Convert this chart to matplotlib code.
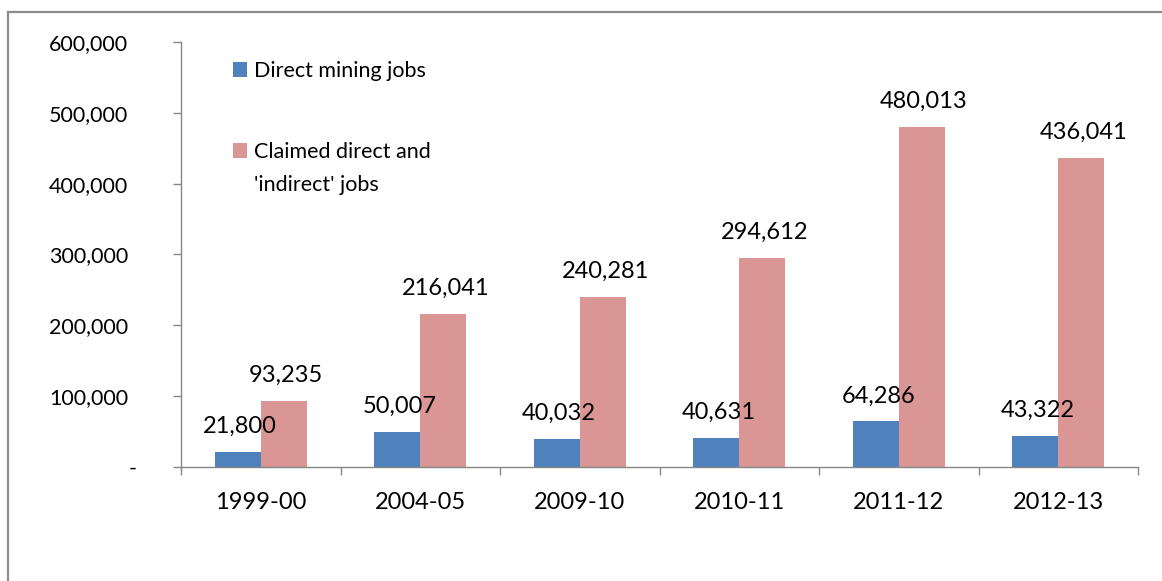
import matplotlib
matplotlib.use("Agg")
import matplotlib.pyplot as plt
from matplotlib.lines import Line2D
from matplotlib.patches import Patch
from matplotlib.transforms import ScaledTranslation
import numpy as np

categories = ["1999-00", "2004-05", "2009-10", "2010-11", "2011-12", "2012-13"]
direct_jobs = [21800, 50007, 40032, 40631, 64286, 43322]
claimed_jobs = [93235, 216041, 240281, 294612, 480013, 436041]
series_names = ["Direct mining jobs", "Claimed direct and", "'indirect' jobs"]
y_ticks = [0, 100000, 200000, 300000, 400000, 500000, 600000]

BLUE = "#4F81BD"
PINK = "#D99694"
AXC = "#868686"

plt.rcParams['font.family'] = ['Lato', 'DejaVu Sans']

fig = plt.figure(figsize=(11.62, 5.81), dpi=100)
ax = fig.add_axes([181/1162, 114/581, (1138-181)/1162, (467-42)/581])

x = np.arange(len(categories)) + 0.5
w = 0.288
b1 = ax.bar(x - w/2, direct_jobs, width=w, color=BLUE, linewidth=0)
b2 = ax.bar(x + w/2, claimed_jobs, width=w, color=PINK, linewidth=0)

for bars, vals in ((b1, direct_jobs), (b2, claimed_jobs)):
    for r, v in zip(bars, vals):
        ax.annotate(f"{v:,}", (r.get_x() + r.get_width()/2 + 0.015, r.get_height()),
                    xytext=(0, 13.7), textcoords="offset points",
                    ha="center", va="baseline", fontsize=17, color="black")

ax.set_xlim(0, len(categories))
ax.set_ylim(0, 600000)

ax.set_yticks(y_ticks)
ax.set_yticklabels(["-" if t == 0 else f"{t:,}" for t in y_ticks])
ax.tick_params(axis="y", direction="out", length=5.8, width=1.0, color=AXC,
               pad=32.4, labelsize=15.5)
for lab in ax.get_yticklabels():
    if lab.get_text() == "-":
        lab.set_transform(lab.get_transform() + ScaledTranslation(9/100, 0, fig.dpi_scale_trans))

ax.set_xticks(np.arange(len(categories) + 1))
ax.set_xticklabels([])
ax.set_xticks(x, minor=True)
ax.set_xticklabels(categories, minor=True)
ax.tick_params(axis="x", which="major", direction="out", length=5.8, width=1.0, color=AXC)
ax.tick_params(axis="x", which="minor", length=0, pad=18, labelsize=17)

for s in ("top", "right"):
    ax.spines[s].set_visible(False)
for s in ("left", "bottom"):
    ax.spines[s].set_color(AXC)
    ax.spines[s].set_linewidth(1.0)

# legends
h1 = [Patch(facecolor=BLUE, edgecolor="none")]
leg1 = ax.legend(h1, [series_names[0]], loc="upper left",
                 bbox_to_anchor=(233/1162, 1 - 61/581), bbox_transform=fig.transFigure,
                 frameon=False, fontsize=15.5, handlelength=0.67, handleheight=0.67,
                 handletextpad=0.3, borderpad=0, borderaxespad=0)
ax.add_artist(leg1)
h2 = [Patch(facecolor=PINK, edgecolor="none"), Patch(facecolor="none", edgecolor="none")]
ax.legend(h2, series_names[1:], loc="upper left",
          bbox_to_anchor=(233/1162, 1 - 142/581), bbox_transform=fig.transFigure,
          frameon=False, fontsize=15.5, handlelength=0.67, handleheight=0.67,
          handletextpad=0.3, borderpad=0, borderaxespad=0, labelspacing=0.62)

# outer chart border (top and left visible)
fig.add_artist(Line2D([8/1162, 1.0], [1 - 12/581, 1 - 12/581], transform=fig.transFigure,
                      color="#8c8c8c", linewidth=1.6))
fig.add_artist(Line2D([8/1162, 8/1162], [0, 1 - 12/581], transform=fig.transFigure,
                      color="#8c8c8c", linewidth=1.6))

fig.savefig("out.png", dpi=100)
